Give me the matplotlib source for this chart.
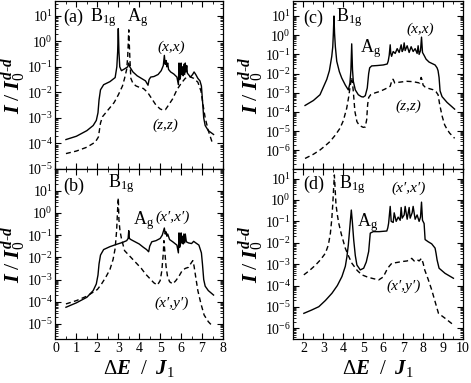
import matplotlib.pyplot as plt
import numpy as np
from matplotlib.ticker import LogLocator, MultipleLocator, NullFormatter

plt.rcParams['font.family'] = ['Liberation Serif', 'DejaVu Serif']
plt.rcParams['mathtext.fontset'] = 'custom'
plt.rcParams['mathtext.rm'] = 'Liberation Serif'
plt.rcParams['mathtext.it'] = 'Liberation Serif:italic:bold'
plt.rcParams['mathtext.bf'] = 'Liberation Serif:bold'

# intensities are given as log10(I / I0)
# (a) (x,x) solid
a_xx_E = [0.5, 1.0, 1.5, 1.8, 1.95, 2.03, 2.08, 2.15, 2.3, 2.6, 2.85, 2.93, 2.97, 3.0, 3.03,
          3.07, 3.15, 3.3, 3.45, 3.5, 3.55, 3.7, 3.9, 4.1, 4.3, 4.42, 4.47, 4.55, 4.7, 4.9,
          5.05, 5.15, 5.2, 5.24, 5.28, 5.32, 5.36, 5.4, 5.5, 5.65, 5.8, 5.87, 5.9, 5.93, 5.97,
          6.0, 6.03, 6.07, 6.1, 6.13, 6.17, 6.2, 6.23, 6.27, 6.3, 6.35, 6.45, 6.55, 6.62, 6.7,
          6.8, 6.9, 6.97, 7.02, 7.08, 7.15, 7.3, 7.55]
a_xx = [-3.85, -3.72, -3.5, -3.3, -3.1, -2.8, -2.3, -1.9, -1.7, -1.58, -1.42, -1.0, -0.4, 0.5, -0.4,
        -1.0, -1.15, -1.08, -1.0, -0.85, -1.0, -1.2, -1.35, -1.45, -1.55, -1.72, -1.5, -1.4, -1.38, -1.3,
        -1.15, -0.95, -0.55, -0.9, -0.75, -1.0, -0.85, -1.1, -1.2, -1.28, -1.4, -1.7, -0.85, -1.5, -1.4,
        -0.85, -1.3, -1.0, -1.35, -0.9, -1.3, -0.85, -1.2, -0.95, -1.25, -1.3, -1.4, -1.3, -1.2, -1.3,
        -1.45, -1.55, -1.75, -2.3, -3.0, -3.3, -3.5, -3.65]
# (a) (z,z) dashed
a_zz_E = [0.5, 1.0, 1.5, 1.9, 2.05, 2.15, 2.25, 2.4, 2.6, 2.8, 3.0, 3.2, 3.3, 3.4, 3.45, 3.5, 3.55,
          3.6, 3.7, 3.85, 4.0, 4.2, 4.4, 4.6, 4.8, 5.0, 5.15, 5.25, 5.4, 5.6, 5.8, 6.0, 6.2, 6.4,
          6.6, 6.8, 6.95, 7.05, 7.15, 7.3, 7.5]
a_zz = [-4.4, -4.3, -4.15, -3.95, -3.75, -3.2, -2.95, -2.8, -2.6, -2.4, -2.1, -1.75, -1.45, -1.1,
        -0.6, 0.45, -0.6, -1.45, -1.65, -1.75, -1.8, -1.85, -2.0, -2.25, -2.5, -2.65, -2.7, -2.68,
        -2.5, -2.25, -1.9, -1.65, -1.45, -1.38, -1.45, -1.6, -1.95, -2.5, -3.0, -3.5, -4.0]

# (b) (x',x') solid
b_xx_E = [0.5, 1.0, 1.5, 1.8, 1.95, 2.03, 2.08, 2.15, 2.3, 2.6, 2.9, 3.2, 3.4, 3.47, 3.5, 3.53,
          3.6, 3.8, 4.0, 4.2, 4.35, 4.45, 4.5, 4.6, 4.8, 5.0, 5.1, 5.2, 5.24, 5.28, 5.32, 5.36,
          5.45, 5.6, 5.8, 5.87, 5.9, 5.93, 5.97, 6.0, 6.03, 6.07, 6.1, 6.13, 6.17, 6.2, 6.25,
          6.35, 6.5, 6.6, 6.7, 6.85, 6.97, 7.02, 7.08, 7.15, 7.3, 7.55]
b_xx = [-4.25, -4.05, -3.8, -3.5, -3.2, -2.8, -2.3, -1.9, -1.65, -1.52, -1.42, -1.33, -1.25, -1.15,
        -0.8, -1.15, -1.2, -1.3, -1.4, -1.55, -1.65, -1.75, -1.5, -1.3, -1.25, -1.15, -1.0, -0.68,
        -0.95, -0.85, -1.05, -0.95, -1.2, -1.3, -1.45, -1.8, -0.9, -1.55, -1.4, -0.9, -1.35, -1.05,
        -1.4, -0.95, -1.35, -0.95, -1.3, -1.35, -1.38, -1.28, -1.35, -1.45, -1.8, -2.3, -3.0, -3.3,
        -3.5, -3.7]
# (b) (x',y') dashed
b_xy_E = [0.5, 1.0, 1.5, 2.0, 2.2, 2.4, 2.6, 2.75, 2.85, 2.92, 2.97, 3.0, 3.03, 3.08, 3.15, 3.3,
          3.5, 3.7, 3.9, 4.1, 4.3, 4.5, 4.7, 4.87, 5.0, 5.08, 5.15, 5.18, 5.22, 5.28, 5.35, 5.45,
          5.6, 5.75, 5.9, 6.05, 6.2, 6.35, 6.45, 6.52, 6.56, 6.62, 6.7, 6.8, 6.95, 7.1, 7.3, 7.45]
b_xy = [-4.1, -3.95, -3.75, -3.45, -3.2, -2.9, -2.55, -2.1, -1.6, -0.8, 0.2, 0.68, -0.3, -0.8,
        -1.15, -1.7, -1.9, -2.1, -2.3, -2.5, -2.75, -2.95, -3.15, -3.25, -3.05, -2.6, -1.8, -1.25,
        -1.7, -2.4, -2.85, -3.1, -3.2, -3.05, -2.85, -2.6, -2.5, -2.45, -2.3, -2.2, -2.15, -2.4,
        -2.9, -3.5, -4.1, -4.6, -4.9, -5.05]

# (c) (x,x) solid
c_xx_E = [2.08, 2.5, 2.83, 3.17, 3.3, 3.42, 3.47, 3.5, 3.53, 3.56, 3.6, 3.67, 3.8, 3.92, 4.1,
          4.25, 4.33, 4.38, 4.42, 4.46, 4.5, 4.6, 4.75, 4.9, 5.0, 5.1, 5.2, 5.27, 5.32, 5.42,
          5.7, 6.0, 6.2, 6.25, 6.3, 6.35, 6.38, 6.42, 6.5, 6.6, 6.7, 6.8, 6.9, 6.95, 7.0,
          7.05, 7.1, 7.2, 7.3, 7.4, 7.5, 7.6, 7.7, 7.75, 7.8, 7.87, 7.92, 7.97, 8.05, 8.15,
          8.3, 8.5, 8.6, 8.7, 8.75, 8.8, 8.85, 8.95, 9.2, 9.58]
c_xx = [-3.66, -3.4, -3.1, -2.3, -1.85, -1.1, -0.6, 0.1, 1.0, 0.1, -0.6, -1.36, -1.9, -2.23, -2.6,
        -2.85, -2.5, -1.8, -0.45, -1.8, -2.4, -2.85, -3.1, -3.2, -3.22, -3.15, -2.75, -2.0, -1.7, -1.6,
        -1.58, -1.55, -1.5, -1.35, -1.05, -0.5, -0.95, -1.1, -0.85, -0.95, -0.7, -0.9, -0.5, -0.85, -0.75,
        -0.4, -0.8, -0.55, -0.9, -0.6, -0.85, -0.7, -0.95, -0.55, -1.0, -0.8, -0.1, -0.9, -1.05, -1.25,
        -1.4, -1.5, -1.55, -1.7, -1.85, -2.2, -2.9, -3.2, -3.5, -3.85]
# (c) (z,z) dashed
c_zz_E = [2.08, 2.5, 2.83, 3.1, 3.33, 3.6, 3.83, 4.0, 4.17, 4.27, 4.33, 4.38, 4.42, 4.46, 4.5,
          4.58, 4.68, 4.8, 5.0, 5.1, 5.17, 5.22, 5.27, 5.37, 5.6, 5.83, 6.1, 6.35, 6.45, 6.5,
          6.58, 6.8, 7.17, 7.5, 7.83, 7.9, 7.94, 8.0, 8.1, 8.3, 8.5, 8.65, 8.75, 8.83, 8.95,
          9.08, 9.2, 9.33, 9.58]
c_zz = [-6.42, -6.2, -5.98, -5.75, -5.54, -5.2, -4.85, -4.45, -3.8, -3.2, -2.75, -2.4, -2.2, -2.5,
        -2.93, -3.97, -4.5, -4.7, -4.8, -4.78, -4.4, -3.6, -3.25, -3.1, -3.0, -2.93, -2.8, -2.66,
        -2.3, -2.3, -2.49, -2.45, -2.4, -2.42, -2.49, -2.2, -2.3, -2.6, -2.7, -2.78, -2.84, -2.95,
        -3.1, -3.6, -4.2, -4.67, -4.9, -5.1, -5.37]

# (d) (x',x') solid
d_xx_E = [2.02, 2.4, 2.77, 3.1, 3.43, 3.7, 3.93, 4.1, 4.18, 4.25, 4.3, 4.35, 4.4, 4.45, 4.52,
          4.6, 4.68, 4.85, 5.02, 5.15, 5.27, 5.35, 5.5, 5.8, 6.18, 6.23, 6.27, 6.35, 6.4, 6.5,
          6.55, 6.65, 6.75, 6.85, 6.9, 6.95, 7.05, 7.1, 7.2, 7.3, 7.35, 7.45, 7.5, 7.6, 7.7,
          7.8, 7.87, 7.92, 7.97, 8.05, 8.1, 8.25, 8.43, 8.6, 8.65, 8.7, 8.8, 9.1, 9.52]
d_xx = [-5.3, -5.15, -4.99, -4.7, -4.36, -4.0, -3.58, -3.1, -2.65, -2.1, -1.56, -1.0, -0.47, -1.0,
        -1.87, -2.6, -3.04, -3.27, -3.19, -2.9, -2.41, -1.55, -1.48, -1.48, -1.45, -1.3, -1.09, -0.3,
        -1.0, -1.05, -0.6, -1.0, -0.8, -0.95, -0.35, -0.85, -0.7, -0.3, -0.9, -0.35, -0.85, -0.6,
        -0.3, -0.9, -0.7, -1.0, -0.8, -0.1, -0.95, -1.1, -1.85, -1.95, -2.05, -2.25, -2.5, -2.8,
        -3.19, -3.43, -3.66]
# (d) (x',y') dashed
d_xy_E = [2.02, 2.3, 2.6, 2.85, 3.1, 3.25, 3.35, 3.42, 3.47, 3.51, 3.55, 3.59, 3.63, 3.7, 3.77,
          3.9, 4.1, 4.25, 4.43, 4.7, 4.93, 5.2, 5.43, 5.77, 6.0, 6.18, 6.3, 6.43, 6.7, 6.93,
          7.2, 7.43, 7.55, 7.68, 7.8, 7.92, 8.0, 8.08, 8.25, 8.43, 8.6, 8.77, 9.1, 9.52]
d_xy = [-3.5, -3.3, -3.05, -2.8, -2.49, -2.1, -1.56, -0.9, -0.2, 0.5, 1.17, 0.5, -0.2, -0.7, -1.09,
        -1.6, -2.26, -2.6, -2.96, -3.3, -3.5, -3.6, -3.66, -3.74, -3.6, -3.27, -3.1, -2.96, -2.92,
        -2.88, -2.85, -2.73, -2.85, -2.78, -2.85, -2.73, -2.95, -3.27, -3.7, -4.2, -4.75, -5.3,
        -5.53, -5.84]

ylabel = r'$I\;/\;I_0^{d\text{-}d}$'
xlabel = r'$\Delta E\;\ /\;\ J_1$'


def style(ax, xlim, ylim, bottom_labels):
    ax.set_yscale('log')
    ax.set_xlim(*xlim)
    ax.set_ylim(10 ** ylim[0], 10 ** ylim[1])
    ax.xaxis.set_major_locator(MultipleLocator(1))
    ax.xaxis.set_minor_locator(MultipleLocator(0.5))
    ax.yaxis.set_major_locator(LogLocator(base=10, numticks=20))
    ax.yaxis.set_minor_locator(LogLocator(base=10, subs=np.arange(2, 10), numticks=20))
    ax.yaxis.set_minor_formatter(NullFormatter())
    ax.tick_params(which='both', direction='in', top=True, right=True, labelsize=10)
    ax.tick_params(which='major', length=4.5, width=0.8, pad=2.5)
    ax.tick_params(axis='y', which='major', pad=1.8)
    ax.tick_params(which='minor', length=2.2, width=0.6)
    if not bottom_labels:
        ax.tick_params(labelbottom=False)
    for s in ax.spines.values():
        s.set_linewidth(0.9)
    ax.set_ylabel(ylabel, fontsize=16)
    ax.yaxis.set_label_coords(-0.158, 0.5)
    if bottom_labels:
        ax.set_xlabel(xlabel, fontsize=15, labelpad=2)


def curves(ax, E1, v1, E2, v2):
    ax.plot(E1, 10 ** np.array(v1), color='black', lw=1.0)
    ax.plot(E2, 10 ** np.array(v2), color='black', lw=1.0, dashes=(3.6, 2.4))


fig = plt.figure(figsize=(4.71, 3.83), dpi=100)
ax_a = fig.add_axes([0.1178, 0.5587, 0.3556, 0.4386])
ax_b = fig.add_axes([0.1178, 0.1149, 0.3556, 0.4439])
ax_c = fig.add_axes([0.6231, 0.5587, 0.3599, 0.4386])
ax_d = fig.add_axes([0.6231, 0.1149, 0.3599, 0.4439])

curves(ax_a, a_xx_E, a_xx, a_zz_E, a_zz)
curves(ax_b, b_xx_E, b_xx, b_xy_E, b_xy)
curves(ax_c, c_xx_E, c_xx, c_zz_E, c_zz)
curves(ax_d, d_xx_E, d_xx, d_xy_E, d_xy)

style(ax_a, (0, 8), (-5.005, 1.58), False)
style(ax_b, (0, 8), (-5.68, 1.98), True)
style(ax_c, (1.5, 10), (-6.97, 1.78), False)
style(ax_d, (1.5, 10), (-6.5, 1.45), True)

B1g = r'$\mathrm{B}_{\mathrm{1g}}$'
Ag = r'$\mathrm{A}_{\mathrm{g}}$'
big = dict(fontsize=13, va='baseline')
small = dict(fontsize=11, va='baseline', ha='center', style='italic')

ax_a.text(0.047, 0.877, '(a)', transform=ax_a.transAxes, **big)
ax_a.text(0.206, 0.877, B1g, transform=ax_a.transAxes, **big)
ax_a.text(0.425, 0.877, Ag, transform=ax_a.transAxes, **big)
ax_a.text(0.694, 0.704, '(x,x)', transform=ax_a.transAxes, **small)
ax_a.text(0.658, 0.24, '(z,z)', transform=ax_a.transAxes, **small)

ax_b.text(0.047, 0.872, '(b)', transform=ax_b.transAxes, **big)
ax_b.text(0.311, 0.892, B1g, transform=ax_b.transAxes, **big)
ax_b.text(0.465, 0.676, Ag, transform=ax_b.transAxes, **big)
ax_b.text(0.698, 0.696, '(x\u2032,x\u2032)', transform=ax_b.transAxes, **small)
ax_b.text(0.694, 0.192, '(x\u2032,y\u2032)', transform=ax_b.transAxes, **small)

ax_c.text(0.056, 0.872, '(c)', transform=ax_c.transAxes, **big)
ax_c.text(0.253, 0.878, B1g, transform=ax_c.transAxes, **big)
ax_c.text(0.39, 0.694, Ag, transform=ax_c.transAxes, **big)
ax_c.text(0.748, 0.813, '(x,x)', transform=ax_c.transAxes, **small)
ax_c.text(0.68, 0.35, '(z,z)', transform=ax_c.transAxes, **small)

ax_d.text(0.058, 0.88, '(d)', transform=ax_d.transAxes, **big)
ax_d.text(0.268, 0.886, B1g, transform=ax_d.transAxes, **big)
ax_d.text(0.374, 0.665, Ag, transform=ax_d.transAxes, **big)
ax_d.text(0.678, 0.866, '(x\u2032,x\u2032)', transform=ax_d.transAxes, **small)
ax_d.text(0.648, 0.288, '(x\u2032,y\u2032)', transform=ax_d.transAxes, **small)

fig.savefig('out.png', dpi=100)
